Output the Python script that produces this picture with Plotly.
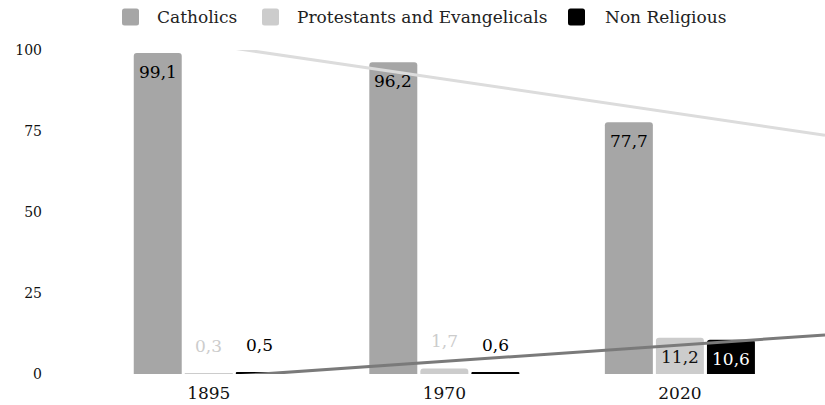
import numpy as np
import plotly.graph_objects as go

# Religious affiliation shares (%) by census year
years = ["1895", "1970", "2020"]
catholics = [99.1, 96.2, 77.7]
protestants = [0.3, 1.7, 11.2]
non_religious = [0.5, 0.6, 10.6]
series_names = ["Catholics", "Protestants and Evangelicals", "Non Religious"]
y_ticks = [0, 25, 50, 75, 100]

series_values = [catholics, protestants, non_religious]
bar_colors = ["#a6a6a6", "#cccccc", "#000000"]
inside_text_colors = ["#000000", "#111111", "#ffffff"]
outside_text_colors = ["#a6a6a6", "#cccccc", "#000000"]

FONT = "DejaVu Serif, Georgia, serif"
W, H = 825, 405
ML, MR, MT, MB = 91, 0, 50, 31
PW, PH = W - ML - MR, H - MT - MB

x_pos = np.arange(len(years))
x_range = [-0.5, 2.616]
BARGAP = 0.35
slot = (1 - BARGAP) / len(series_values)

fig = go.Figure()

for name, vals, col in zip(series_names, series_values, bar_colors):
    fig.add_trace(go.Bar(
        x=x_pos, y=vals, name=name, marker=dict(color=col, line=dict(width=0)),
        showlegend=False, hoverinfo="skip",
    ))

# Linear trend lines for Catholics and Non Religious
trend_x = np.linspace(x_range[0], x_range[1], 50)
for vals, col in [(catholics, "#dcdcdc"), (non_religious, "#7a7a7a")]:
    k, b = np.polyfit(x_pos, vals, 1)
    fig.add_trace(go.Scatter(
        x=trend_x, y=k * trend_x + b, mode="lines",
        line=dict(color=col, width=3), showlegend=False, hoverinfo="skip",
    ))

annotations = []
for si, vals in enumerate(series_values):
    offset = (si - (len(series_values) - 1) / 2) * slot
    for xi, v in zip(x_pos, vals):
        label = f"{v:.1f}".replace(".", ",")
        inside = v >= 10
        annotations.append(dict(
            x=xi + offset, y=v, xref="x", yref="y", text=label, showarrow=False,
            xanchor="center", yanchor="middle",
            yshift=-19 if inside else 27,
            font=dict(family=FONT, size=17,
                      color=inside_text_colors[si] if inside else outside_text_colors[si]),
        ))

# Legend drawn as rounded swatches and labels above the plot
def px_to_paper_x(px):
    return (px - ML) / PW

def px_to_paper_y(py):
    return (H - MB - py) / PH

legend_swatch_left = [122, 262, 568]
legend_text_left = [155, 295, 603]
legend_y = 17
shapes = []
r, s = 2.5, 8.5
rounded = (f"M {-s + r},{-s} L {s - r},{-s} Q {s},{-s} {s},{-s + r} L {s},{s - r} "
           f"Q {s},{s} {s - r},{s} L {-s + r},{s} Q {-s},{s} {-s},{s - r} "
           f"L {-s},{-s + r} Q {-s},{-s} {-s + r},{-s} Z")
for name, col, sx, tx in zip(series_names, bar_colors, legend_swatch_left, legend_text_left):
    shapes.append(dict(
        type="path", xref="paper", yref="paper", xsizemode="pixel", ysizemode="pixel",
        xanchor=px_to_paper_x(sx + s), yanchor=px_to_paper_y(legend_y),
        path=rounded, fillcolor=col, line=dict(width=0),
    ))
    annotations.append(dict(
        x=px_to_paper_x(tx), y=px_to_paper_y(legend_y), xref="paper", yref="paper",
        text=name, showarrow=False, xanchor="left", yanchor="middle",
        font=dict(family=FONT, size=17, color="#222222"),
    ))

fig.update_layout(
    width=W, height=H, margin=dict(l=ML, r=MR, t=MT, b=MB),
    paper_bgcolor="white", plot_bgcolor="white",
    barmode="group", bargap=BARGAP, bargroupgap=0.06, barcornerradius=3,
    font=dict(family=FONT, color="#111111"),
    annotations=annotations, shapes=shapes, showlegend=False,
    xaxis=dict(
        range=x_range, tickvals=list(x_pos), ticktext=years, showgrid=False,
        zeroline=False, showline=False, ticks="", tickfont=dict(size=17, color="#111111"),
        ticklabelstandoff=7,
    ),
    yaxis=dict(
        range=[0, 100], tickvals=y_ticks, showgrid=False, zeroline=False,
        showline=False, ticks="", tickfont=dict(size=14, color="#111111"),
        ticklabelstandoff=48,
    ),
)

fig.write_html("out.html")
